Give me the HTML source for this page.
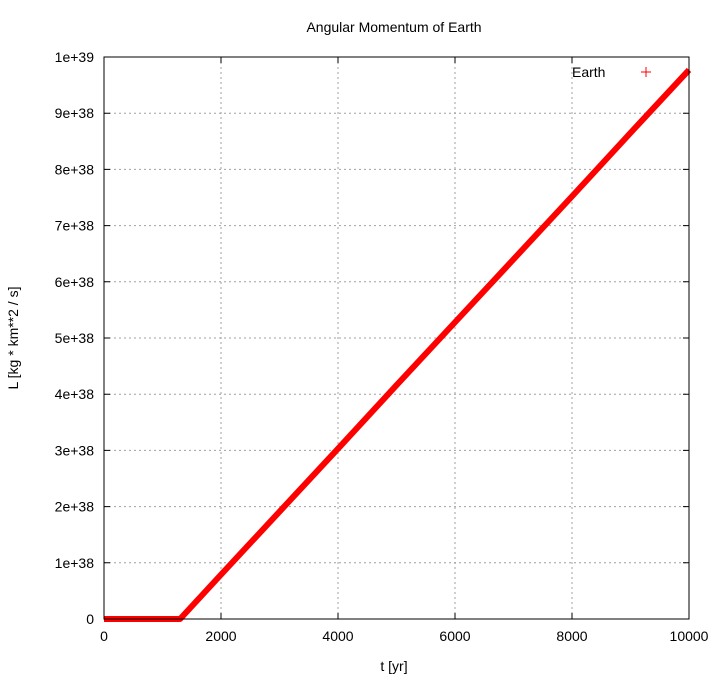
<!DOCTYPE html>
<html><head><meta charset="utf-8"><style>
body{margin:0;background:#fff}
svg text{font-family:"Liberation Sans",sans-serif;font-size:14px;fill:#000}
</style></head><body>
<svg id="chart" width="720" height="680">
<text x="394" y="32" text-anchor="middle">Angular Momentum of Earth</text>
<g id="grid"></g>
<g id="axes"></g>
<g id="series"></g>
<rect x="104" y="57" width="585" height="562" fill="none" stroke="#000" stroke-width="1"/>
<text x="394" y="671" text-anchor="middle">t [yr]</text>
<text transform="translate(18,338) rotate(-90)" text-anchor="middle">L [kg * km**2 / s]</text>
<g>
<text x="572" y="77">Earth</text>
<path d="M641 72h10M646 67v10" stroke="#f00" stroke-width="1"/>
</g>
</svg>
<script>
const xTicks=[0,2000,4000,6000,8000,10000];
const yTicks=[0,1,2,3,4,5,6,7,8,9,10];
const yTickLabels=["0","1e+38","2e+38","3e+38","4e+38","5e+38","6e+38","7e+38","8e+38","9e+38","1e+39"];
const tYears=[0,500,1000,1300,2000,3000,4000,5000,6000,7000,8000,9000,10000];
const L38=[0,0,0,0,0.79,1.91,3.03,4.16,5.28,6.40,7.52,8.65,9.77];
const X0=104,X1=689,Y0=619,Y1=57;
const sx=v=>X0+(v/10000)*(X1-X0);
const sy=v=>Y0-(v/10)*(Y0-Y1);
const ns="http://www.w3.org/2000/svg";
const grid=document.getElementById('grid'),axes=document.getElementById('axes'),ser=document.getElementById('series');
function mk(tag,attrs,parent){const e=document.createElementNS(ns,tag);for(const k in attrs)e.setAttribute(k,attrs[k]);parent.appendChild(e);return e;}
xTicks.forEach(t=>{const x=sx(t);
 if(t>0&&t<10000){const g=mk('line',{x1:x,x2:x,y1:Y0,y2:Y1,stroke:'#a0a0a0','stroke-dasharray':'2,3'},grid);
 
 }
 const tk=mk('path',{d:`M${x} ${Y0}v-6M${x} ${Y1}v6`,stroke:'#000'},axes);
 
 
 const lb=mk('text',{x:x,y:Y0+22,'text-anchor':'middle'},axes);lb.textContent=t;
 
 
});
yTicks.forEach((v,i)=>{const y=sy(v);
 if(v>0&&v<10){const g=mk('line',{x1:X0,x2:X1,y1:y,y2:y,stroke:'#a0a0a0','stroke-dasharray':'2,3'},grid);
 
 }
 const tk=mk('path',{d:`M${X0} ${y}h6M${X1} ${y}h-6`,stroke:'#000'},axes);
 
 
 const lb=mk('text',{x:X0-10,y:y+5,'text-anchor':'end'},axes);lb.textContent=yTickLabels[i];
 
 
});
const pts=tYears.map((t,i)=>sx(t)+','+sy(L38[i])).join(' ');
const pl=mk('polyline',{points:pts,fill:'none',stroke:'#f00','stroke-width':6,'stroke-linejoin':'round'},ser);


</script>
</body></html>
